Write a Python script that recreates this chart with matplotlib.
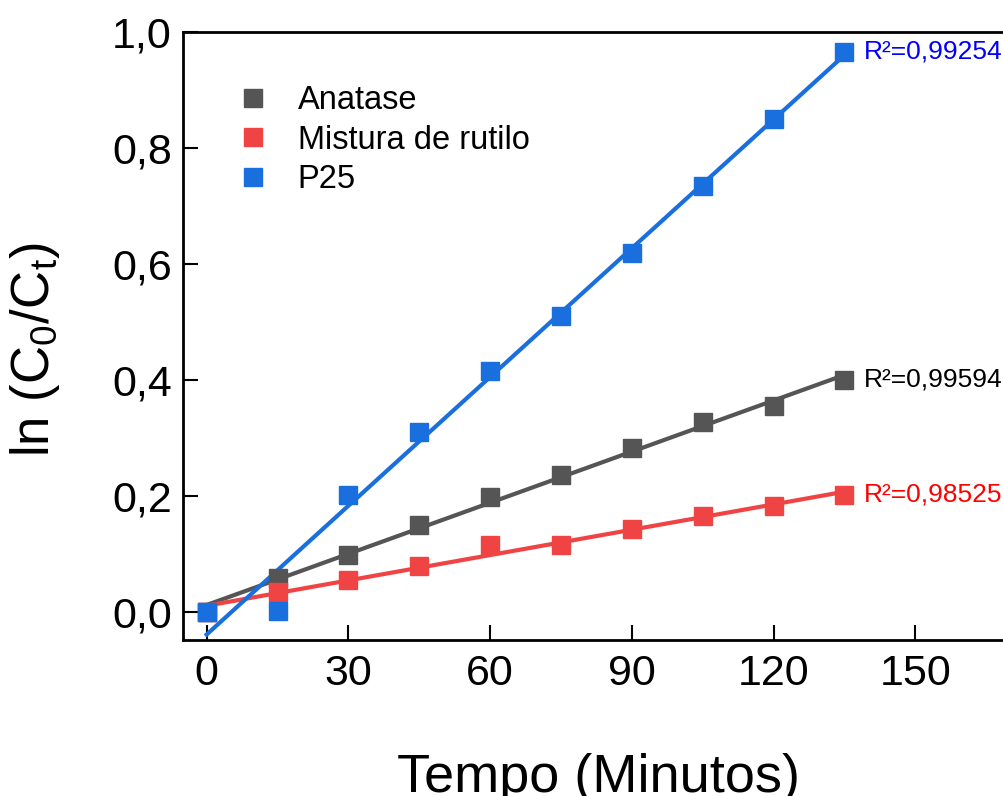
import numpy as np
import matplotlib
matplotlib.use("Agg")
import matplotlib.pyplot as plt
from matplotlib.ticker import FuncFormatter

plt.rcParams["font.family"] = ["Liberation Sans", "DejaVu Sans"]
plt.rcParams["mathtext.default"] = "regular"

# Tempo (min)
tempo = [0, 15, 30, 45, 60, 75, 90, 105, 120, 135]

anatase = [0.0, 0.058, 0.098, 0.150, 0.198, 0.236, 0.283, 0.327, 0.355, 0.401]
rutilo = [0.0, 0.034, 0.055, 0.079, 0.116, 0.116, 0.143, 0.165, 0.183, 0.202]
p25 = [0.0, 0.002, 0.202, 0.310, 0.415, 0.510, 0.619, 0.734, 0.850, 0.966]

series = [
    ("Anatase", anatase, "#555555", "R²=0,99594", "black"),
    ("Mistura de rutilo", rutilo, "#F04444", "R²=0,98525", "red"),
    ("P25", p25, "#1A6FDF", "R²=0,99254", "blue"),
]

fig = plt.figure(figsize=(10.04, 7.96), dpi=100)
ax = fig.add_axes([0.1823, 0.196, 0.847, 0.7638])

x = np.array(tempo, dtype=float)
handles = []
for name, vals, color, r2, r2_color in series:
    y = np.array(vals)
    slope, intercept = np.polyfit(x, y, 1)
    ax.plot([x[0], x[-1]], [intercept, intercept + slope * x[-1]],
            color=color, lw=3, zorder=2)
    h, = ax.plot(x, y, ls="none", marker="s", ms=12.5, color=color,
                 label=name, zorder=3)
    handles.append(h)
    ax.annotate(r2, (x[-1], y[-1]), xytext=(14, 0), textcoords="offset points",
                va="center", ha="left", fontsize=19, color=r2_color)

ax.set_xlim(-5, 175)
ax.set_ylim(-0.048, 1.0)
ax.set_xticks([0, 30, 60, 90, 120, 150])
ax.set_yticks([0.0, 0.2, 0.4, 0.6, 0.8, 1.0])
ax.yaxis.set_major_formatter(FuncFormatter(lambda v, p: f"{v:.1f}".replace(".", ",")))
ax.tick_params(direction="in", length=11, width=1.5, labelsize=31, pad=8)
ax.tick_params(axis="x", pad=10)
for s in ax.spines.values():
    s.set_linewidth(2)

ax.set_xlabel("Tempo (Minutos)", fontsize=39)
ax.xaxis.set_label_coords(0.488, -0.186)
ax.set_ylabel("ln (C$_0$/C$_t$)", fontsize=38)
ax.yaxis.set_label_coords(-0.142, 0.477)

ax.legend(handles=handles, loc="upper left", bbox_to_anchor=(0.048, 0.934),
          frameon=False, fontsize=23.5, handlelength=1.0, handletextpad=0.86,
          labelspacing=0.26, markerscale=1.0, borderaxespad=0)

fig.savefig("out.png", dpi=100)
